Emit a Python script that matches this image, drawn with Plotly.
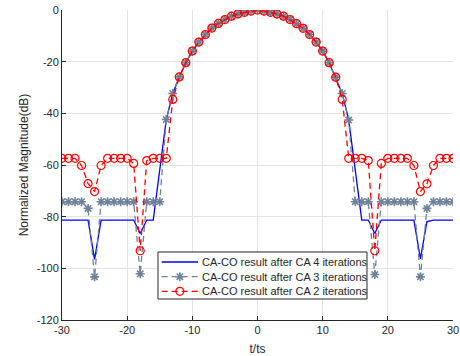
import plotly.graph_objects as go

t = list(range(-30, 31))

ca4 = [-81.3, -81.3, -81.3, -81.3, -81.3, -96.5, -81.3, -81.3, -81.3, -81.3,
       -81.3, -81.3, -86.5, -81.3, -81.3, -61.5, -42.4, -32.3,
       -25.9, -20.4, -15.9, -12.4, -9.5, -7.0, -5.2, -3.7, -2.4, -1.5, -0.9, -0.4,
       0.0,
       -0.4, -0.9, -1.5, -2.4, -3.7, -5.3, -7.1, -9.5, -12.4, -15.9, -20.4, -26.0,
       -32.3, -42.6, -62.0, -81.3, -81.3, -86.5, -81.3, -81.3, -81.3, -81.3,
       -81.3, -81.3, -96.3, -81.9, -81.3, -81.3, -81.3, -81.3]

ca3 = [-74.2, -74.2, -74.2, -74.2, -76.8, -103.3, -74.2, -74.2, -74.2, -74.2,
       -74.2, -74.2, -102.1, -74.2, -74.2, -74.2, -42.4, -32.3,
       -25.9, -20.4, -15.9, -12.4, -9.5, -7.0, -5.2, -3.7, -2.4, -1.5, -0.9, -0.4,
       0.0,
       -0.4, -0.9, -1.5, -2.4, -3.7, -5.3, -7.1, -9.5, -12.4, -15.9, -20.4, -26.0,
       -32.3, -42.6, -74.2, -74.2, -74.2, -102.4, -74.2, -74.2, -74.2, -74.2,
       -74.2, -74.2, -103.3, -76.8, -74.2, -74.2, -74.2, -74.2]

ca2 = [-57.4, -57.4, -57.4, -60.2, -67.2, -70.3, -60.2, -57.4, -57.4, -57.4,
       -57.4, -59.4, -93.2, -58.3, -57.4, -57.4, -57.4, -34.6,
       -25.9, -20.4, -15.9, -12.4, -9.5, -7.0, -5.2, -3.7, -2.4, -1.5, -0.9, -0.4,
       0.0,
       -0.4, -0.9, -1.5, -2.4, -3.7, -5.3, -7.1, -9.5, -12.4, -15.9, -20.4, -26.0,
       -34.6, -57.4, -57.4, -57.4, -58.3, -93.2, -59.4, -57.4, -57.4, -57.4,
       -57.4, -60.2, -70.3, -67.3, -60.2, -57.4, -57.4, -57.4]

names = ["CA-CO result after CA 4 iterations",
         "CA-CO result after CA 3 iterations",
         "CA-CO result after CA 2 iterations"]

x_ticks = [-30, -20, -10, 0, 10, 20, 30]
y_ticks = [-120, -100, -80, -60, -40, -20, 0]

FONT = "Liberation Sans, Arial, sans-serif"
TXT = "#262626"
BLUE = "#0000FF"
GRAY = "#6E8299"
RED = "#FF0000"
DASH = "6px,4px"

styles = [
    dict(mode="lines", line=dict(color=BLUE, width=1.3), marker=None),
    dict(mode="lines+markers", line=dict(color=GRAY, width=1.3, dash=DASH),
         marker=dict(symbol="asterisk-open", size=7.5, color=GRAY,
                     line=dict(color=GRAY, width=1.6))),
    dict(mode="lines+markers", line=dict(color=RED, width=1.3, dash=DASH),
         marker=dict(symbol="circle-open", size=8, color=RED,
                     line=dict(color=RED, width=1.2))),
]

fig = go.Figure()
for series, name, st in zip([ca4, ca3, ca2], names, styles):
    kw = dict(x=t, y=series, mode=st["mode"], name=name, line=st["line"],
              showlegend=False)
    if st["marker"] is not None:
        kw["marker"] = st["marker"]
    fig.add_trace(go.Scatter(**kw))

# ---- legend drawn on an overlay axis spanning the plot area (0..1) ----
box_x0, box_x1, box_y0, box_y1 = 0.2455, 0.780, 0.0677, 0.2194
row_y = [0.1871, 0.1397, 0.0926]
samp_x0, samp_x1 = 0.2550, 0.3478
text_x = 0.3529

fig.add_trace(go.Scatter(
    x=[box_x0, box_x1, box_x1, box_x0, box_x0],
    y=[box_y0, box_y0, box_y1, box_y1, box_y0],
    mode="lines", fill="toself", fillcolor="white",
    line=dict(color=TXT, width=1), xaxis="x2", yaxis="y2",
    showlegend=False, hoverinfo="skip"))

for ry, name, st in zip(row_y, names, styles):
    fig.add_trace(go.Scatter(
        x=[samp_x0, samp_x1], y=[ry, ry], mode="lines", line=st["line"],
        xaxis="x2", yaxis="y2", showlegend=False, hoverinfo="skip"))
    if st["marker"] is not None:
        fig.add_trace(go.Scatter(
            x=[(samp_x0 + samp_x1) / 2], y=[ry], mode="markers",
            marker=st["marker"], xaxis="x2", yaxis="y2",
            showlegend=False, hoverinfo="skip"))
    fig.add_annotation(x=text_x, y=ry, xref="x2", yref="y2", text=name,
                       showarrow=False, xanchor="left", yanchor="middle",
                       font=dict(family=FONT, size=11, color=TXT))

axis_common = dict(showgrid=True, gridcolor="#E3E3E3", gridwidth=1,
                   zeroline=False, showline=True, linecolor=TXT,
                   linewidth=1, ticks="inside", ticklen=4, tickcolor=TXT,
                   automargin=False,
                   tickfont=dict(family=FONT, size=11, color=TXT))

fig.update_xaxes(range=[-30, 30], tickvals=x_ticks,
                 ticktext=[str(v) for v in x_ticks],
                 title=dict(text="t/ts", standoff=11,
                            font=dict(family=FONT, size=12, color=TXT)),
                 **axis_common)
fig.update_yaxes(range=[-120, 0], tickvals=y_ticks,
                 ticktext=[str(v) for v in y_ticks],
                 title=dict(text="Normalized Magnitude(dB)", standoff=5,
                            font=dict(family=FONT, size=12, color=TXT)),
                 **axis_common)

fig.update_layout(
    width=460, height=356,
    margin=dict(l=62, r=7, t=10, b=36),
    paper_bgcolor="white", plot_bgcolor="white",
    showlegend=False,
    xaxis2=dict(overlaying="x", range=[0, 1], visible=False, fixedrange=True),
    yaxis2=dict(overlaying="y", range=[0, 1], visible=False, fixedrange=True),
)

fig.write_html("out.html",
               config={"displayModeBar": False},
               post_script="document.body.style.margin='0';"
                           "document.body.style.padding='0';")
